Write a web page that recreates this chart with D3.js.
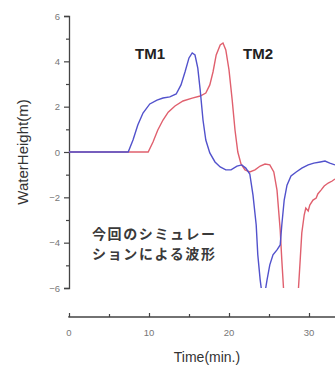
<!DOCTYPE html>
<html>
<head>
<meta charset="utf-8">
<script src="https://cdn.jsdelivr.net/npm/d3@7"></script>
<style>
  body { margin: 0; background: #fff; }
  svg { display: block; font-family: "Liberation Sans", Arial, sans-serif; }
</style>
</head>
<body>
<div id="chart"></div>
<script>
// TM1 (blue) samples: time (min) / water height (m)
const tm1Time = [0, 7.4, 8.0, 8.6, 9.25, 10.1, 11.0, 11.75, 12.6, 13.4, 14.0, 14.5, 15.0, 15.4, 15.75, 16.1, 16.4, 16.75, 17.1, 17.6, 18.25, 18.9, 19.6, 20.25, 21.0, 21.6, 22.1, 22.6, 23.0, 23.4, 23.6, 23.9, 24.1, 24.5, 24.75, 25.1, 25.5, 26.0, 26.4, 26.6, 26.9, 27.25, 27.75, 28.4, 29.1, 29.9, 30.6, 31.4, 32.0, 32.6, 33.25];
const tm1Height = [0, 0, 0.53, 1.19, 1.72, 2.12, 2.29, 2.38, 2.43, 2.56, 2.96, 3.53, 4.15, 4.37, 4.28, 3.7, 2.73, 1.41, 0.53, -0.04, -0.44, -0.66, -0.79, -0.79, -0.62, -0.57, -0.71, -0.97, -1.9, -3.22, -4.54, -5.65, -6.2, -6.2, -5.65, -4.98, -4.54, -4.32, -4.1, -3.22, -2.12, -1.46, -1.06, -0.88, -0.71, -0.57, -0.49, -0.44, -0.4, -0.49, -0.57];

// TM2 (red) samples
const tm2Time = [0, 9.9, 10.5, 11.1, 11.75, 12.4, 13.25, 14.25, 15.4, 16.4, 17.1, 17.6, 18.0, 18.4, 18.9, 19.25, 19.6, 20.0, 20.4, 20.75, 21.1, 21.5, 22.0, 22.6, 23.25, 23.9, 24.5, 25.1, 25.6, 26.0, 26.4, 26.6, 26.9, 27.9, 28.6, 28.9, 29.1, 29.4, 29.6, 29.9, 30.1, 30.5, 30.9, 31.1, 31.5, 31.9, 32.4, 32.9, 33.25];
const tm2Height = [0, 0, 0.44, 0.97, 1.41, 1.76, 2.03, 2.25, 2.38, 2.47, 2.6, 2.96, 3.53, 4.28, 4.72, 4.81, 4.5, 3.62, 2.29, 0.97, 0, -0.53, -0.79, -0.88, -0.79, -0.62, -0.53, -0.57, -0.88, -1.68, -3.44, -4.76, -6.5, -7.85, -6.5, -4.76, -3.57, -2.78, -2.47, -2.6, -2.34, -2.12, -2.03, -1.85, -1.68, -1.5, -1.37, -1.28, -1.19];

const yTicks = [-6, -4, -2, 0, 2, 4, 6];
const xTicks = [0, 10, 20, 30];
const seriesLabels = ["TM1", "TM2"];
const noteLines = ["今回のシミュレー", "ションによる波形"];

const width = 335, height = 366;
const svg = d3.select("#chart").append("svg")
  .attr("width", width)
  .attr("height", height);

const x = d3.scaleLinear().domain([0, 30]).range([69, 309]);
const y = d3.scaleLinear().domain([-6, 6]).range([288, 16]);

// y axis
const yAxis = svg.append("g")
  .attr("transform", "translate(69,0)")
  .call(d3.axisLeft(y).tickValues(yTicks).tickSize(5).tickPadding(4).tickFormat(d => d < 0 ? "\u2212" + Math.abs(d) : d));
yAxis.append("g")
  .call(d3.axisLeft(y).tickValues(d3.range(-5, 6, 2)).tickSize(3).tickFormat(""))
  .select(".domain").remove();
yAxis.selectAll(".domain").attr("stroke", "#444").attr("stroke-width", 1.3);
yAxis.selectAll(".tick line").attr("stroke", "#444").attr("stroke-width", 1.2);
yAxis.selectAll("text").attr("fill", "#777").style("font-size", "9.5px");

// x axis (ticks pointing up)
const xAxis = svg.append("g")
  .attr("transform", "translate(0,317)")
  .call(d3.axisTop(x).tickValues(xTicks).tickSize(4).tickFormat(""));
xAxis.append("g")
  .call(d3.axisTop(x).tickValues([5, 15, 25]).tickSize(3).tickFormat(""))
  .select(".domain").remove();
xAxis.select(".domain").attr("d", `M${x(0)},-1V0H${width}`);
xAxis.selectAll(".domain").attr("stroke", "#444").attr("stroke-width", 1.3);
xAxis.selectAll(".tick line").attr("stroke", "#444").attr("stroke-width", 1.2);
svg.append("g").selectAll("text")
  .data(xTicks)
  .join("text")
  .attr("x", d => x(d))
  .attr("y", 336)
  .attr("text-anchor", "middle")
  .attr("fill", "#777")
  .style("font-size", "9.5px")
  .text(d => d);

// axis titles
svg.append("text")
  .attr("transform", "translate(28,152) rotate(-90)")
  .attr("text-anchor", "middle")
  .attr("fill", "#333")
  .style("font-size", "15px")
  .text("WaterHeight(m)");
svg.append("text")
  .attr("x", 207)
  .attr("y", 362)
  .attr("text-anchor", "middle")
  .attr("fill", "#333")
  .style("font-size", "14px")
  .text("Time(min.)");

// clip to plot range
svg.append("clipPath").attr("id", "plot")
  .append("rect").attr("x", 69).attr("y", y(6)).attr("width", width - 69).attr("height", y(-6) - y(6));

const line = d3.line().x(d => x(d[0])).y(d => y(d[1]));
const plot = svg.append("g").attr("clip-path", "url(#plot)");
plot.append("path")
  .datum(d3.zip(tm2Time, tm2Height))
  .attr("fill", "none")
  .attr("stroke", "#e0606e")
  .attr("stroke-width", 1.4)
  .attr("d", line);
plot.append("path")
  .datum(d3.zip(tm1Time, tm1Height))
  .attr("fill", "none")
  .attr("stroke", "#5252cc")
  .attr("stroke-width", 1.4)
  .attr("d", line);

// series labels
svg.append("text")
  .attr("x", 150).attr("y", 59)
  .attr("text-anchor", "middle")
  .attr("fill", "#222")
  .style("font-size", "15px")
  .style("font-weight", "bold")
  .text(seriesLabels[0]);
svg.append("text")
  .attr("x", 258).attr("y", 59)
  .attr("text-anchor", "middle")
  .attr("fill", "#222")
  .style("font-size", "15px")
  .style("font-weight", "bold")
  .text(seriesLabels[1]);

// annotation
svg.append("g").selectAll("text")
  .data(noteLines)
  .join("text")
  .attr("x", 92)
  .attr("y", (d, i) => 239 + i * 20)
  .attr("fill", "#3a3a3a")
  .attr("textLength", 123)
  .style("font-family", "'Noto Sans CJK JP', sans-serif")
  .style("font-size", "14px")
  .style("font-weight", "bold")
  .text(d => d);
</script>
</body>
</html>
